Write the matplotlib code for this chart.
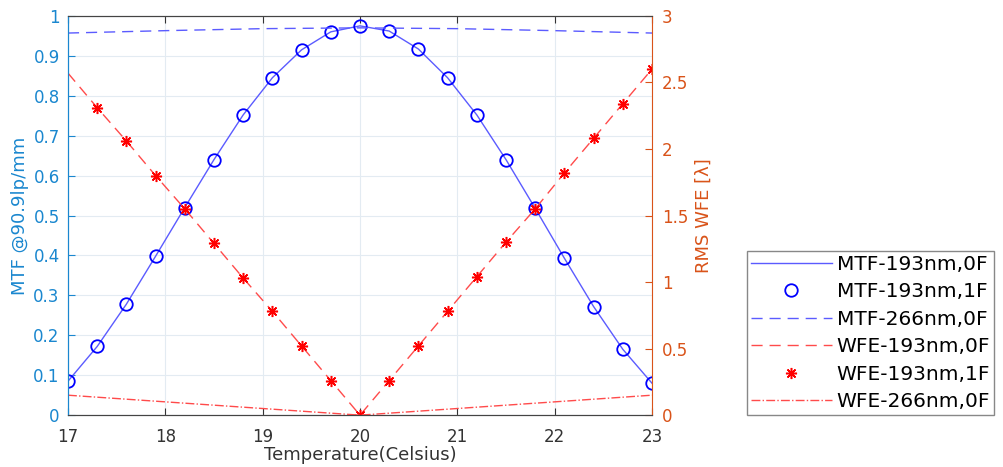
import numpy as np
import matplotlib.pyplot as plt

plt.rcParams['font.family'] = ['DejaVu Sans']

temp = [17.0, 17.3, 17.6, 17.9, 18.2, 18.5, 18.8, 19.1, 19.4, 19.7, 20.0,
        20.3, 20.6, 20.9, 21.2, 21.5, 21.8, 22.1, 22.4, 22.7, 23.0]
mtf193_0f = [0.085, 0.172, 0.278, 0.398, 0.520, 0.640, 0.752, 0.845, 0.915, 0.960, 0.975,
             0.962, 0.917, 0.845, 0.752, 0.640, 0.518, 0.393, 0.272, 0.165, 0.080]
mtf193_1f = mtf193_0f
temp266 = [17.0, 18.0, 19.0, 20.0, 21.0, 22.0, 23.0]
mtf266_0f = [0.957, 0.963, 0.968, 0.970, 0.968, 0.963, 0.957]
wfe193_0f = [2.57, 2.31, 2.06, 1.80, 1.55, 1.29, 1.03, 0.78, 0.52, 0.26, 0.0,
             0.26, 0.52, 0.78, 1.04, 1.30, 1.55, 1.82, 2.08, 2.34, 2.60]
temp_star = temp[1:]
wfe193_1f = wfe193_0f[1:]
temp_wfe266 = [17.0, 20.0, 23.0]
wfe266_0f = [0.15, 0.0, 0.15]

blue_ax = '#1a87cf'
orange_ax = '#d95319'

fig = plt.figure(figsize=(10.04, 4.67), dpi=100)
ax = fig.add_axes([0.0677, 0.111, 0.5817, 0.855])
ax2 = ax.twinx()

l1, = ax.plot(temp, mtf193_0f, '-', color='#5b5bff', lw=1.0)
l2, = ax.plot(temp, mtf193_1f, 'o', color='blue', mfc='none', ms=9, mew=1.3, linestyle='none')
l3, = ax.plot(temp266, mtf266_0f, '--', color='#5b5bff', lw=1.0, dashes=(8, 5))
l4, = ax2.plot(temp, wfe193_0f, '--', color='#ff4b4b', lw=1.0, dashes=(8, 5))
l5, = ax2.plot(temp_star, wfe193_1f, marker=(8, 2, 0), color='red', ms=8, mew=1.1, linestyle='none')
l6, = ax2.plot(temp_wfe266, wfe266_0f, '-.', color='#ff4b4b', lw=1.0)

ax.set_xlim(17, 23)
ax.set_ylim(0, 1)
ax2.set_ylim(0, 3)
ax.set_xticks(range(17, 24))
ax.set_yticks(np.arange(0, 1.01, 0.1))
ax.set_yticklabels(['0', '0.1', '0.2', '0.3', '0.4', '0.5', '0.6', '0.7', '0.8', '0.9', '1'])
ax2.set_yticks(np.arange(0, 3.01, 0.5))
ax2.set_yticklabels(['0', '0.5', '1', '1.5', '2', '2.5', '3'])

ax.grid(True, color='#e3ebf2', lw=0.8)
ax.set_axisbelow(True)

ax.tick_params(axis='x', direction='in', colors='#333333', labelsize=12, length=5, pad=9)
ax.tick_params(axis='y', direction='in', colors=blue_ax, labelsize=12, length=5, pad=6)
ax2.tick_params(axis='y', direction='in', colors=orange_ax, labelsize=12, length=5, pad=7)
ax.tick_params(axis='x', top=True)

for s in ['top', 'bottom']:
    ax.spines[s].set_color('#444444')
    ax2.spines[s].set_color('#444444')
ax.spines['left'].set_color(blue_ax)
ax2.spines['left'].set_color(blue_ax)
ax2.spines['right'].set_color(orange_ax)
ax.spines['right'].set_visible(False)

ax.set_xlabel('Temperature(Celsius)', fontsize=13, color='#333333', labelpad=0)
ax.set_ylabel('MTF @90.9lp/mm', fontsize=13, color=blue_ax, labelpad=3)
ax2.set_ylabel('RMS WFE [\u03bb]', fontsize=13, color=orange_ax, labelpad=5)

leg = fig.legend([l1, l2, l3, l4, l5, l6],
                 ['MTF-193nm,0F', 'MTF-193nm,1F', 'MTF-266nm,0F',
                  'WFE-193nm,0F', 'WFE-193nm,1F', 'WFE-266nm,0F'],
                 loc='lower left', bbox_to_anchor=(0.744, 0.111), fontsize=14.5,
                 handlelength=4.0, labelspacing=0.42, borderpad=0.2, borderaxespad=0,
                 handletextpad=0.25, fancybox=False, framealpha=1)
leg.get_frame().set_edgecolor('#888888')

fig.savefig('out.png', dpi=100)
